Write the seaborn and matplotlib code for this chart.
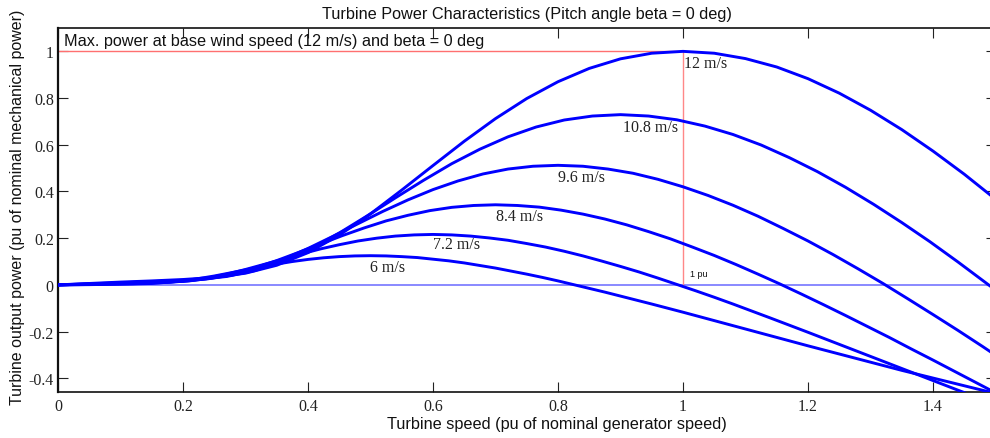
import matplotlib
matplotlib.use("Agg")
import matplotlib.pyplot as plt
import seaborn as sns
import pandas as pd

# ---- data ----
speeds = ["12 m/s", "10.8 m/s", "9.6 m/s", "8.4 m/s", "7.2 m/s", "6 m/s"]

x12 = [0, 0.05, 0.1, 0.15, 0.2, 0.25, 0.3, 0.35, 0.4, 0.45, 0.5, 0.55, 0.6, 0.65, 0.7, 0.75,
       0.8, 0.85, 0.9, 0.95, 1.0, 1.05, 1.1, 1.15, 1.2, 1.25, 1.3, 1.35, 1.4, 1.45, 1.5]
p12 = [0, 0.006, 0.012, 0.017, 0.023, 0.032, 0.050, 0.084, 0.138, 0.213, 0.304, 0.406, 0.511,
       0.615, 0.712, 0.798, 0.870, 0.927, 0.968, 0.992, 1.0, 0.992, 0.969, 0.933, 0.883, 0.821,
       0.748, 0.665, 0.573, 0.474, 0.367]

x108 = [0, 0.09, 0.18, 0.225, 0.27, 0.315, 0.36, 0.405, 0.45, 0.495, 0.54, 0.585, 0.63, 0.675,
        0.72, 0.765, 0.81, 0.855, 0.9, 0.945, 0.99, 1.035, 1.08, 1.125, 1.17, 1.215, 1.26, 1.305,
        1.35, 1.395, 1.44, 1.485, 1.5]
p108 = [0, 0.008, 0.017, 0.023, 0.036, 0.061, 0.101, 0.155, 0.222, 0.296, 0.373, 0.448, 0.519,
        0.581, 0.634, 0.676, 0.706, 0.723, 0.729, 0.723, 0.707, 0.680, 0.644, 0.599, 0.545, 0.485,
        0.418, 0.345, 0.267, 0.185, 0.098, 0.008, -0.022]

x96 = [0, 0.08, 0.16, 0.2, 0.24, 0.28, 0.32, 0.36, 0.4, 0.44, 0.48, 0.52, 0.56, 0.6, 0.64, 0.68,
       0.72, 0.76, 0.8, 0.84, 0.88, 0.92, 0.96, 1.0, 1.04, 1.08, 1.12, 1.16, 1.2, 1.24, 1.28, 1.32,
       1.36, 1.4, 1.44, 1.48, 1.5]
p96 = [0, 0.006, 0.012, 0.016, 0.026, 0.043, 0.071, 0.109, 0.156, 0.208, 0.262, 0.315, 0.364,
       0.408, 0.445, 0.475, 0.496, 0.508, 0.512, 0.508, 0.496, 0.478, 0.452, 0.420, 0.383, 0.341,
       0.294, 0.242, 0.188, 0.130, 0.069, 0.006, -0.060, -0.127, -0.195, -0.265, -0.301]

x84 = [0, 0.07, 0.14, 0.21, 0.245, 0.28, 0.315, 0.35, 0.385, 0.42, 0.455, 0.49, 0.525, 0.56, 0.595,
       0.63, 0.665, 0.7, 0.735, 0.77, 0.805, 0.84, 0.875, 0.91, 0.945, 0.98, 1.015, 1.05, 1.085,
       1.12, 1.155, 1.19, 1.225, 1.26, 1.295, 1.33, 1.365, 1.4, 1.435, 1.47, 1.5]
p84 = [0, 0.004, 0.008, 0.017, 0.029, 0.047, 0.073, 0.104, 0.139, 0.175, 0.211, 0.244, 0.274,
       0.298, 0.318, 0.332, 0.340, 0.343, 0.340, 0.333, 0.320, 0.303, 0.282, 0.257, 0.228, 0.197,
       0.162, 0.126, 0.087, 0.046, 0.004, -0.040, -0.085, -0.131, -0.178, -0.225, -0.274, -0.322,
       -0.371, -0.420, -0.462]

x72 = [0, 0.06, 0.12, 0.18, 0.21, 0.24, 0.27, 0.3, 0.33, 0.36, 0.39, 0.42, 0.45, 0.48, 0.51, 0.54,
       0.57, 0.6, 0.63, 0.66, 0.69, 0.72, 0.75, 0.78, 0.81, 0.84, 0.87, 0.9, 0.93, 0.96, 0.99, 1.02,
       1.05, 1.08, 1.11, 1.14, 1.2, 1.26, 1.32, 1.38, 1.44, 1.5]
p72 = [0, 0.002, 0.005, 0.011, 0.018, 0.030, 0.046, 0.066, 0.088, 0.110, 0.133, 0.154, 0.172,
       0.188, 0.200, 0.209, 0.214, 0.216, 0.214, 0.209, 0.201, 0.191, 0.177, 0.162, 0.144, 0.124,
       0.102, 0.079, 0.055, 0.029, 0.002, -0.025, -0.053, -0.082, -0.112, -0.142, -0.203, -0.265,
       -0.327, -0.389, -0.451, -0.512]

x6 = [0, 0.05, 0.1, 0.15, 0.2, 0.225, 0.25, 0.275, 0.3, 0.325, 0.35, 0.375, 0.4, 0.425, 0.45,
      0.475, 0.5, 0.525, 0.55, 0.575, 0.6, 0.625, 0.65, 0.675, 0.7, 0.725, 0.75, 0.775, 0.8, 0.825,
      0.85, 0.875, 0.9, 0.925, 0.95, 1.0, 1.05, 1.1, 1.15, 1.2, 1.25, 1.3, 1.35, 1.4, 1.45, 1.5]
p6 = [0, 0.001, 0.003, 0.006, 0.017, 0.027, 0.038, 0.051, 0.064, 0.077, 0.089, 0.100, 0.109,
      0.116, 0.121, 0.124, 0.125, 0.124, 0.121, 0.117, 0.110, 0.103, 0.094, 0.083, 0.072, 0.059,
      0.046, 0.032, 0.017, 0.001, -0.015, -0.031, -0.048, -0.065, -0.082, -0.117, -0.153, -0.189,
      -0.225, -0.261, -0.296, -0.331, -0.366, -0.399, -0.432, -0.465]

xs_all = [x12, x108, x96, x84, x72, x6]
ps_all = [p12, p108, p96, p84, p72, p6]

xticks = [0, 0.2, 0.4, 0.6, 0.8, 1.0, 1.2, 1.4]
xticklabels = ["0", "0.2", "0.4", "0.6", "0.8", "1", "1.2", "1.4"]
yticks = [-0.4, -0.2, 0, 0.2, 0.4, 0.6, 0.8, 1.0]
yticklabels = ["-0.4", "-0.2", "0", "0.2", "0.4", "0.6", "0.8", "1"]

# ---- figure ----
sns.set_theme(style="white")
plt.rcParams["font.family"] = ["Liberation Sans", "DejaVu Sans"]
serif = ["Liberation Serif", "DejaVu Serif"]

fig = plt.figure(figsize=(9.9, 4.39), dpi=100)
ax = fig.add_axes([58 / 990, (439 - 393.3) / 439, 937.5 / 990, (393.3 - 29) / 439])

frames = []
for name, xs, ps in zip(speeds, xs_all, ps_all):
    frames.append(pd.DataFrame({"speed": xs, "power": ps, "wind": name}))
df = pd.concat(frames, ignore_index=True)

# reference lines
ax.axhline(0, color="#8080ff", lw=1.3, zorder=1)
ax.plot([0, 1], [1, 1], color="#ff7070", lw=1.0, zorder=1)
ax.plot([1, 1], [0, 1], color="#ff8888", lw=1.0, zorder=1)

sns.lineplot(data=df, x="speed", y="power", hue="wind", hue_order=speeds,
             palette=["#0000ff"] * len(speeds), estimator=None, sort=False,
             lw=2.1, legend=False, ax=ax, zorder=3)

ax.set_xlim(0, 1.5)
ax.set_ylim(-0.46, 1.1)
ax.set_xticks(xticks)
ax.set_xticklabels(xticklabels, family=serif, fontsize=11.5)
ax.set_yticks(yticks)
ax.set_yticklabels(yticklabels, family=serif, fontsize=11.5)
ax.tick_params(direction="in", length=7, width=0.8, color="#222222", top=True, right=True,
               bottom=True, left=True, labelcolor="#222222")
ax.tick_params(axis="x", pad=4)
ax.tick_params(axis="y", pad=3)

for side in ["left", "bottom", "top", "right"]:
    ax.spines[side].set_color("#111111")
    ax.spines[side].set_linewidth(1.2)
ax.spines["left"].set_linewidth(1.6)

ax.set_title("Turbine Power Characteristics (Pitch angle beta = 0 deg)", fontsize=11.7, pad=7,
             color="#111111")
ax.set_xlabel("Turbine speed (pu of nominal generator speed)", fontsize=11.7,
              color="#111111")
ax.xaxis.set_label_coords(0.532, -0.065)
ax.set_ylabel("Turbine output power (pu of nominal mechanical power)", fontsize=11.5,
              color="#111111")
ax.yaxis.set_label_coords(-0.035, 0.51)

ax.text(0.0096, 1.047, "Max. power at base wind speed (12 m/s) and beta = 0 deg",
        fontsize=11.7, ha="left", va="center", color="#111111")
ax.text(1.011, 0.047, "1 pu", fontsize=6.5, ha="left", va="center", color="#111111")

label_pos = [(1.002, 0.949), (0.904, 0.677), (0.80, 0.46), (0.70, 0.296), (0.60, 0.175),
             (0.50, 0.076)]
for name, (lx, ly) in zip(speeds, label_pos):
    ax.text(lx, ly, name, fontsize=11.5, ha="left", va="center", color="#222222",
            family=serif, zorder=5)

fig.savefig("out.png", dpi=100, facecolor="white")
